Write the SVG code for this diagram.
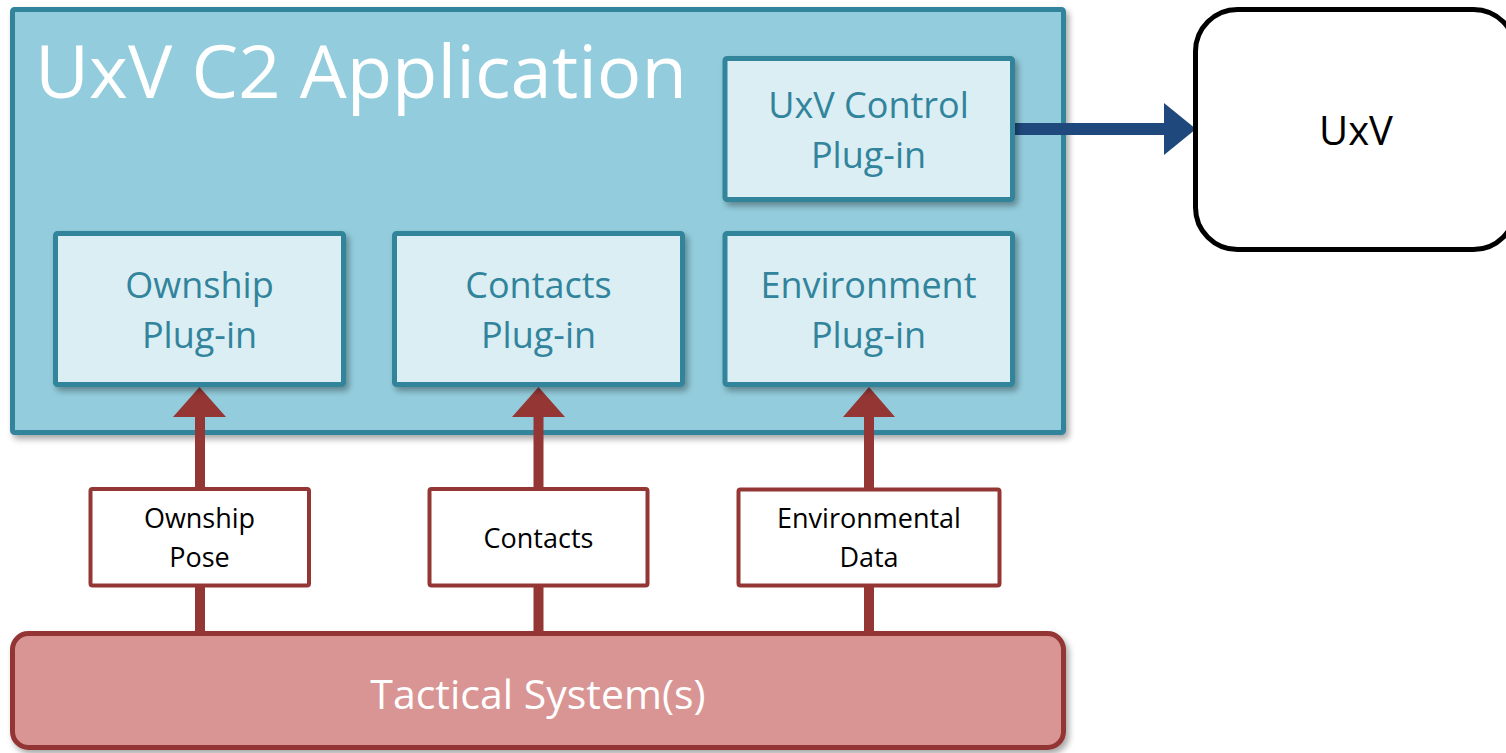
<svg xmlns="http://www.w3.org/2000/svg" width="1506" height="753" viewBox="0 0 1506 753">
  <style>
    .app { fill: #93cddd; stroke: #31849b; stroke-width: 5; }
    .plugin { fill: #daeef3; stroke: #31849b; stroke-width: 5; }
    .plugin-text { font-family: "Open Sans", "Liberation Sans", sans-serif; font-size: 36px; fill: #31849b; text-anchor: middle; }
    .title { font-family: "Open Sans", "Liberation Sans", sans-serif; font-size: 73px; fill: #ffffff; }
    .data { fill: #ffffff; stroke: #943634; stroke-width: 4; }
    .data-text { font-family: "Open Sans", "Liberation Sans", sans-serif; font-size: 27px; fill: #000000; text-anchor: middle; }
    .tactical { fill: #d99594; stroke: #943634; stroke-width: 5; }
    .tactical-text { font-family: "Open Sans", "Liberation Sans", sans-serif; font-size: 41px; fill: #ffffff; text-anchor: middle; }
    .uxv { fill: #ffffff; stroke: #000000; stroke-width: 5; }
    .uxv-text { font-family: "Open Sans", "Liberation Sans", sans-serif; font-size: 40px; fill: #000000; text-anchor: middle; }
    .feed { stroke: #943634; stroke-width: 10; fill: none; }
    .feed-head { fill: #943634; }
    .cmd { stroke: #1f497d; stroke-width: 12; fill: none; }
    .cmd-head { fill: #1f497d; }
  </style>
  <defs>
    <filter id="shadow" x="-10%" y="-10%" width="130%" height="130%">
      <feDropShadow dx="3" dy="4" stdDeviation="3" flood-color="#000000" flood-opacity="0.35"/>
    </filter>
  </defs>

  <rect width="1506" height="753" fill="#ffffff"/>

  <!-- Application container -->
  <g id="app">
    <rect class="app" x="12.5" y="9.5" width="1051" height="423" rx="2" filter="url(#shadow)"/>
    <text class="title" x="35" y="98" textLength="652" lengthAdjust="spacingAndGlyphs">UxV C2 Application</text>
  </g>

  <!-- Tactical system -->
  <g id="tactical">
    <rect class="tactical" x="12.5" y="633.5" width="1051" height="114" rx="16" filter="url(#shadow)"/>
    <text class="tactical-text" x="538" y="709">Tactical System(s)</text>
  </g>

  <!-- Connectors -->
  <g id="connectors">
    <line class="feed" x1="200" y1="634" x2="200" y2="414"/>
    <polygon class="feed-head" points="173,417 226,417 199.5,387"/>
    <line class="feed" x1="538.5" y1="634" x2="538.5" y2="414"/>
    <polygon class="feed-head" points="512,417 565,417 538.5,387"/>
    <line class="feed" x1="869" y1="634" x2="869" y2="414"/>
    <polygon class="feed-head" points="843,417 895,417 869,387"/>
    <line class="cmd" x1="1014" y1="129" x2="1168" y2="129"/>
    <polygon class="cmd-head" points="1164,103 1164,155 1196,129"/>
  </g>

  <!-- Plug-ins -->
  <g id="control-plugin">
    <rect class="plugin" x="725" y="58.5" width="287.5" height="141" rx="2" filter="url(#shadow)"/>
    <text class="plugin-text" x="868.5" y="118">UxV Control</text>
    <text class="plugin-text" x="868.5" y="168">Plug-in</text>
  </g>
  <g id="ownship-plugin">
    <rect class="plugin" x="55.5" y="233.5" width="288" height="151" rx="2" filter="url(#shadow)"/>
    <text class="plugin-text" x="199.5" y="298">Ownship</text>
    <text class="plugin-text" x="199.5" y="348">Plug-in</text>
  </g>
  <g id="contacts-plugin">
    <rect class="plugin" x="394.5" y="233.5" width="288" height="151" rx="2" filter="url(#shadow)"/>
    <text class="plugin-text" x="538.5" y="298">Contacts</text>
    <text class="plugin-text" x="538.5" y="348">Plug-in</text>
  </g>
  <g id="environment-plugin">
    <rect class="plugin" x="725" y="233.5" width="287.5" height="151" rx="2" filter="url(#shadow)"/>
    <text class="plugin-text" x="868.5" y="298">Environment</text>
    <text class="plugin-text" x="868.5" y="348">Plug-in</text>
  </g>

  <!-- Data labels -->
  <g id="ownship-pose">
    <rect class="data" x="90.5" y="489" width="218.5" height="96.5" rx="2"/>
    <text class="data-text" x="199.5" y="528">Ownship</text>
    <text class="data-text" x="199.5" y="567">Pose</text>
  </g>
  <g id="contacts-data">
    <rect class="data" x="429.5" y="489" width="218" height="96.5" rx="2"/>
    <text class="data-text" x="538.5" y="548">Contacts</text>
  </g>
  <g id="environmental-data">
    <rect class="data" x="738.5" y="489.5" width="261" height="96" rx="2"/>
    <text class="data-text" x="869" y="528">Environmental</text>
    <text class="data-text" x="869" y="567">Data</text>
  </g>

  <!-- Vehicle -->
  <g id="uxv">
    <rect class="uxv" x="1195.5" y="9.5" width="320" height="240" rx="42"/>
    <text class="uxv-text" x="1356" y="145">UxV</text>
  </g>
</svg>
